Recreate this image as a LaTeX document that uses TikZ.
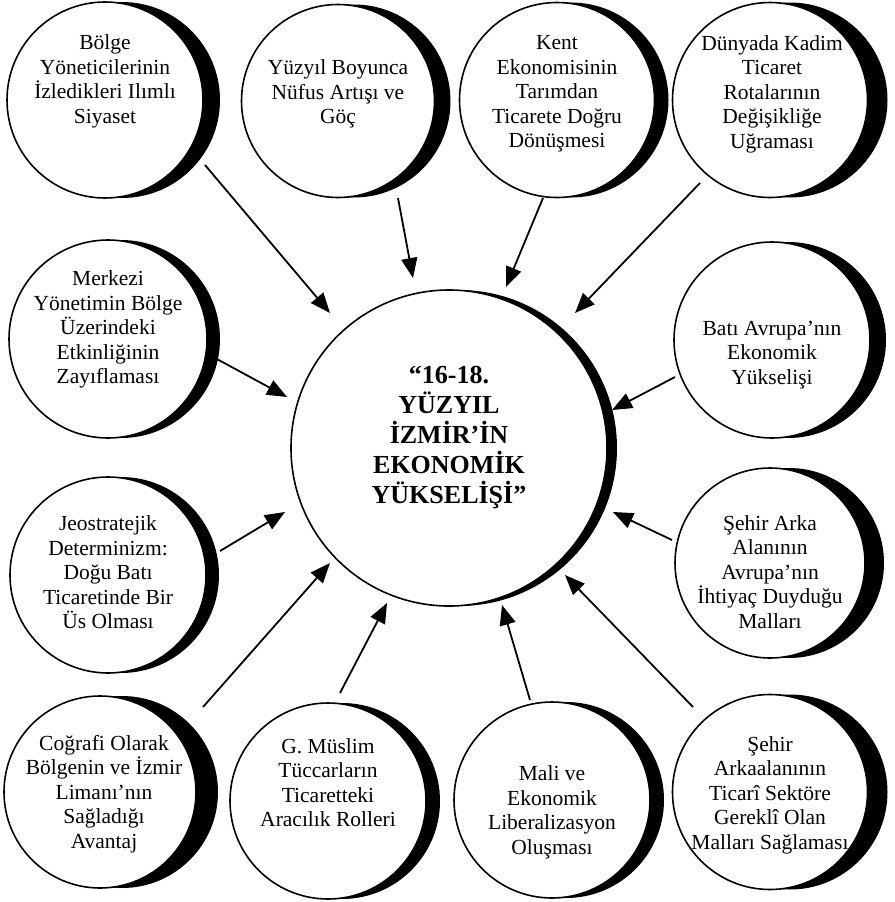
\documentclass[tikz,border=0pt]{standalone}
\usepackage{fontspec}
\setmainfont{Liberation Serif}
\usetikzlibrary{shadows,arrows.meta,calc}
\begin{document}
\begin{tikzpicture}[x=1pt,y=-1pt,
  bub/.style={circle,draw=black,line width=1.6pt,fill=white,minimum size=#1,inner sep=0pt,outer sep=0pt},
  cres/.style={general shadow={fill=black,shadow xshift=#1,shadow yshift=0pt,shadow scale=1}},
  lbl/.style={align=center,font=\fontsize{21.5}{24.5}\selectfont,inner sep=0pt},
  big/.style={align=center,font=\fontsize{26}{30}\selectfont\bfseries,inner sep=0pt},
  arr/.style={line width=1.8pt,-{Triangle[length=20pt,width=16pt]}}]
\fill[white] (0,0) rectangle (894,902);
\useasboundingbox (0,0) rectangle (894,902);

% circles
\node[bub=316pt,cres=10pt] (center) at (449,448) {};
\node[bub=196pt,cres=17pt] (c1) at (105,100) {};
\node[bub=193pt,cres=16pt] (c2) at (338,101) {};
\node[bub=195pt,cres=14pt] (c3) at (557,100) {};
\node[bub=195pt,cres=20pt] (c4) at (770,100) {};
\node[bub=198pt,cres=13pt] (c5) at (108,339) {};
\node[bub=196pt,cres=13pt] (c6) at (108,575) {};
\node[bub=192pt,cres=22pt] (c7) at (100,792) {};
\node[bub=196pt,cres=14pt] (c8) at (328,801) {};
\node[bub=196pt,cres=14pt] (c9) at (552,800) {};
\node[bub=195pt,cres=20pt] (c10) at (770,792) {};
\node[bub=196pt,cres=16pt] (c11) at (772,340) {};
\node[bub=190pt,cres=19pt] (c12) at (770,563) {};

% texts
\node[big] (tc) at (449,437.5) {“16-18.\\YÜZYIL\\İZMİR’İN\\EKONOMİK\\YÜKSELİŞİ”};
\node[lbl] (t1) at (105,81.5) {Bölge\\Yöneticilerinin\\İzledikleri Ilımlı\\Siyaset};
\node[lbl] (t2) at (338,94) {Yüzyıl Boyunca\\Nüfus Artışı ve\\Göç};
\node[lbl] (t3) at (557,94) {Kent\\Ekonomisinin\\Tarımdan\\Ticarete Doğru\\Dönüşmesi};
\node[lbl] (t4) at (772,94) {Dünyada Kadim\\Ticaret\\Rotalarının\\Değişikliğe\\Uğraması};
\node[lbl] (t5) at (108,329.5) {Merkezi\\Yönetimin Bölge\\Üzerindeki\\Etkinliğinin\\Zayıflaması};
\node[lbl] (t6) at (108,572.5) {Jeostratejik\\Determinizm:\\Doğu Batı\\Ticaretinde Bir\\Üs Olması};
\node[lbl] (t7) at (104,794) {Coğrafi Olarak\\Bölgenin ve İzmir\\Limanı’nın\\Sağladığı\\Avantaj};
\node[lbl] (t8) at (328,782.5) {G. Müslim\\Tüccarların\\Ticaretteki\\Aracılık Rolleri};
\node[lbl] (t9) at (552,812.5) {Mali ve\\Ekonomik\\Liberalizasyon\\Oluşması};
\node[lbl] (t10) at (770,795) {Şehir\\Arkaalanının\\Ticarî Sektöre\\Gereklî Olan\\Malları Sağlaması};
\node[lbl] (t11) at (772,355) {Batı Avrupa’nın\\Ekonomik\\Yükselişi};
\node[lbl] (t12) at (770,572) {Şehir Arka\\Alanının\\Avrupa’nın\\İhtiyaç Duyduğu\\Malları};

% arrows
\draw[arr] ($(c1)+(100,65)$) -- ($(center)+(-119,-135)$);
\draw[arr] ($(c2)+(60,97)$) -- ($(center)+(-36,-170)$);
\draw[arr] ($(c3)+(-14,98)$) -- ($(center)+(57,-161)$);
\draw[arr] ($(c4)+(-70,83)$) -- ($(center)+(126,-135)$);
\draw[arr] ($(c5)+(107,19)$) -- ($(center)+(-162,-51)$);
\draw[arr] ($(c6)+(112,-24)$) -- ($(center)+(-164,64)$);
\draw[arr] ($(c7)+(103,-85)$) -- ($(center)+(-119,115)$);
\draw[arr] ($(c8)+(12,-108)$) -- ($(center)+(-62,155)$);
\draw[arr] ($(c9)+(-22,-100)$) -- ($(center)+(53,157)$);
\draw[arr] ($(c10)+(-77,-85)$) -- ($(center)+(116,127)$);
\draw[arr] ($(c11)+(-97,37)$) -- ($(center)+(163,-38)$);
\draw[arr] ($(c12)+(-98,-23)$) -- ($(center)+(164,64)$);
\end{tikzpicture}
\end{document}
